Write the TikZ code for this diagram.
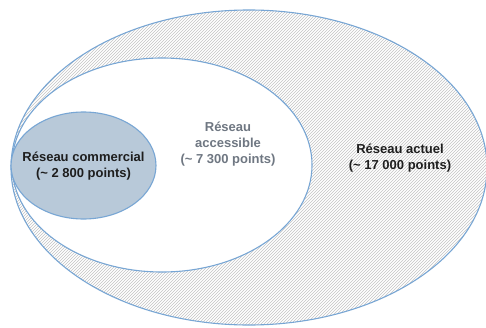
\documentclass[tikz,border=0pt]{standalone}
\usepackage{fontspec}
\setmainfont{Liberation Sans}
\usetikzlibrary{patterns}
\definecolor{edge}{HTML}{78A6D4}
\definecolor{innerfill}{HTML}{B8C9D9}
\definecolor{hatch}{HTML}{C4C4C4}
\definecolor{darktext}{HTML}{1E1E1E}
\definecolor{graytext}{HTML}{6F7782}
\tikzset{
  ring/.style={draw=edge, line width=1.1pt},
  lbl/.style={font=\fontsize{13}{16}\selectfont\bfseries, align=center, inner sep=0pt},
}
\begin{document}
\begin{tikzpicture}[x=1pt,y=1pt]
\useasboundingbox (0,0) rectangle (486,327);
\fill[white] (0,0) rectangle (486,327);
% outer
\fill[white] (249,159.5) ellipse [x radius=238, y radius=157.5];
\fill[pattern=north east lines, pattern color=hatch] (249,159.5) ellipse [x radius=238, y radius=157.5];
\draw[ring] (249,159.5) ellipse [x radius=238, y radius=157.5];
% middle
\fill[white] (162,162) ellipse [x radius=150, y radius=107];
\draw[ring] (162,162) ellipse [x radius=150, y radius=107];
% inner
\filldraw[ring, fill=innerfill] (83.5,161.5) ellipse [x radius=72.5, y radius=53.5];
% labels
\node[lbl, text=darktext] (com) at (83.5,161) {Réseau commercial\\(\textasciitilde{} 2 800 points)};
\node[lbl, text=graytext] (acc) at (228,183) {Réseau\\accessible\\(\textasciitilde{} 7 300 points)};
\node[lbl, text=darktext] (act) at (400,168.5) {Réseau actuel\\(\textasciitilde{} 17 000 points)};
\end{tikzpicture}
\end{document}
